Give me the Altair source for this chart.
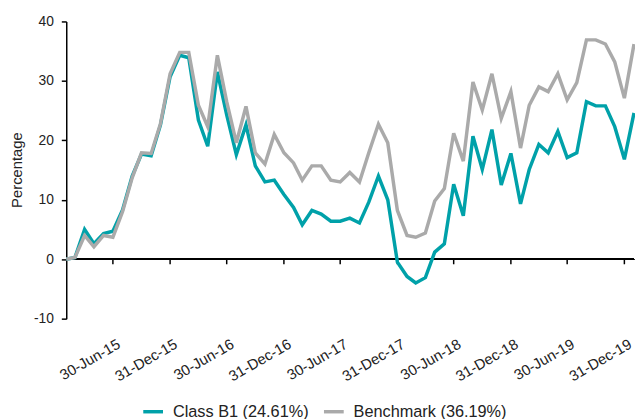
import altair as alt
import pandas as pd

# Monthly cumulative performance (%) — month-ends Jan-2015 .. Jan-2020
class_b1 = [0.0, 0.3, 5.0, 2.6, 4.3, 4.7, 8.3, 14.0, 17.7, 17.4,
            22.6, 30.7, 34.3, 33.9, 23.4, 19.0, 31.5, 24.3, 17.6, 22.6,
            15.7, 13.0, 13.3, 10.9, 8.7, 5.8, 8.2, 7.6, 6.4, 6.4,
            6.9, 6.1, 9.6, 14.0, 10.0, -0.5, -2.9, -4.0, -3.1, 1.2,
            2.6, 12.6, 7.3, 20.7, 15.1, 21.8, 12.5, 17.8, 9.3, 15.1,
            19.3, 17.9, 21.5, 17.1, 17.9, 26.5, 25.8, 25.8, 22.3, 16.8,
            24.61]
benchmark = [0.0, 0.3, 4.0, 2.1, 4.0, 3.7, 8.0, 13.7, 17.9, 17.8,
             22.8, 31.2, 34.8, 34.8, 25.9, 22.3, 34.3, 26.5, 19.6, 25.7,
             17.9, 16.0, 21.0, 17.9, 16.2, 13.3, 15.7, 15.7, 13.3, 13.0,
             14.6, 13.0, 17.9, 22.7, 19.6, 8.2, 4.0, 3.7, 4.4, 9.8,
             11.9, 21.2, 16.5, 29.8, 25.1, 31.2, 23.7, 28.2, 18.7, 25.9,
             29.0, 28.2, 31.2, 26.8, 29.7, 36.9, 36.9, 36.2, 33.2, 27.1,
             36.19]
series_names = ["Class B1 (24.61%)", "Benchmark (36.19%)"]
series_colors = ["#00a1a9", "#aaaaaa"]
tick_dates = ["2015-06-30", "2015-12-31", "2016-06-30", "2016-12-31", "2017-06-30",
              "2017-12-31", "2018-06-30", "2018-12-31", "2019-06-30", "2019-12-31"]

dates = pd.date_range(start="2015-01-31", periods=len(class_b1),
                      freq=pd.offsets.MonthEnd()).strftime("%Y-%m-%d").tolist()

df = pd.concat([
    pd.DataFrame({"date": dates, "value": class_b1, "series": series_names[0]}),
    pd.DataFrame({"date": dates, "value": benchmark, "series": series_names[1]}),
], ignore_index=True)
ticks_df = pd.DataFrame({"date": tick_dates})

tick_values = [alt.DateTime(year=int(d[:4]), month=int(d[5:7]), date=int(d[8:10]))
               for d in tick_dates]

x_scale = alt.Scale(domain=[alt.DateTime(year=2015, month=1, date=31),
                            alt.DateTime(year=2020, month=1, date=31)], nice=False)
y_scale = alt.Scale(domain=[-10, 40], nice=False, zero=False)

x_axis = alt.Axis(values=tick_values, format="%d-%b-%y", labelAngle=330,
                  labelAlign="right", labelBaseline="top", labelFontSize=15,
                  labelPadding=18, labelOffset=2, ticks=False, domain=False,
                  grid=False, title=None, labelOverlap=False, labelFlush=False,
                  labelColor="#222222")
y_axis = alt.Axis(values=[-10, 0, 10, 20, 30, 40], title="Percentage",
                  labelExpr="'' + datum.value",
                  titleFontSize=15, titleFontWeight="normal", titleX=-45, titleY=150,
                  titleBaseline="alphabetic", titleAngle=270, titleColor="#222222",
                  labelFontSize=14, labelPadding=8, tickSize=5, tickColor="black",
                  tickWidth=1.5, domainColor="black", domainWidth=1.5, grid=False,
                  labelColor="#222222")

zero_line = alt.Chart(df).mark_rule(color="black", strokeWidth=1.5).encode(
    y=alt.datum(0, scale=y_scale)
)

x_ticks = alt.Chart(ticks_df).mark_rule(color="black", strokeWidth=1.5).encode(
    x=alt.X("date:T", scale=x_scale),
    y=alt.datum(0),
    y2=alt.datum(-0.85),
)

lines = alt.Chart(df).mark_line(strokeWidth=3.5).encode(
    x=alt.X("date:T", scale=x_scale, axis=x_axis),
    y=alt.Y("value:Q", scale=y_scale, axis=y_axis),
    color=alt.Color("series:N",
                    scale=alt.Scale(domain=series_names, range=series_colors),
                    legend=alt.Legend(orient="none", legendX=76, legendY=383,
                                      direction="horizontal", title=None,
                                      symbolType="stroke", symbolSize=400,
                                      symbolStrokeWidth=3.5, labelFontSize=16.5,
                                      labelOffset=8, columnPadding=8,
                                      labelColor="#222222")),
    order=alt.Order("date:T"),
)

chart = alt.layer(zero_line, x_ticks, lines).properties(
    width=575, height=301,
    autosize=alt.AutoSizeParams(type="none"),
    padding={"left": 59, "top": 11, "right": 1, "bottom": 99},
).configure(font="Liberation Sans").configure_view(stroke=None)

chart.save("out.html", embed_options={"renderer": "svg", "actions": False})
